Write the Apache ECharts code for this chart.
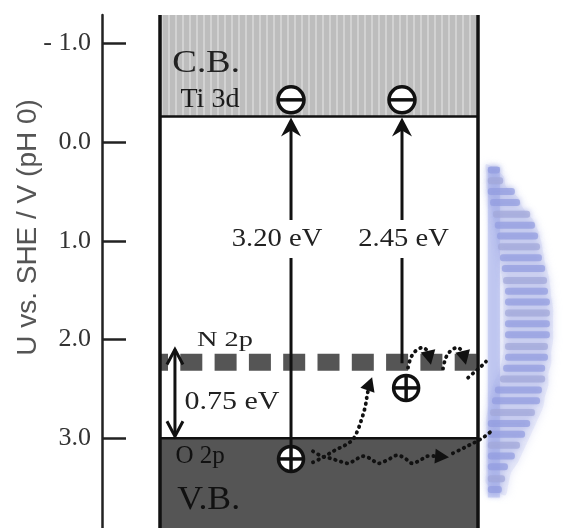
<!DOCTYPE html>
<html><head><meta charset="utf-8">
<script src="https://cdn.jsdelivr.net/npm/echarts@6/dist/echarts.min.js"></script>
<style>html,body{margin:0;padding:0;background:#fff}#c{width:563px;height:528px}</style>
</head><body><div id="c"></div>
<script>
// ---------- data ----------
const tickValues = [-1, 0, 1, 2, 3];
const tickLabels = ['- 1.0', '0.0', '1.0', '2.0', '3.0'];
const yRange = [-1.29, 3.91];          // potential, V vs SHE (axis inverted)
const xRange = [-1.824, 10];           // arbitrary horizontal units; crystal spans 0..10
const boxX = [0, 10];
const cbEdge = -0.26;                  // conduction band (Ti 3d)
const vbEdge = 3.0;                    // valence band (O 2p)
const n2pLevel = 2.23;                 // N 2p localized level
const transX = [4.12, 7.61];
const transFrom = [3.07, 2.24];
const transTo = [cbEdge, cbEdge];
const transLabels = ['3.20 eV', '2.45 eV'];
const transLabelX = [3.68, 7.66];
const transLabelY = [0.98, 0.98];
const chargeX = [4.12, 7.61, 4.12, 7.74];
const chargeY = [-0.43, -0.43, 3.21, 2.49];
const chargeSign = ['-', '-', '+', '+'];
const gapArrowX = 0.47;
const gapArrowTop = 2.09;
const gapArrowBottom = 2.99;
const labelText = ['C.B.', 'Ti 3d', 'N 2p', '0.75 eV', 'O 2p', 'V.B.'];
const labelX = [1.45, 1.57, 2.04, 2.26, 1.26, 1.53];
const labelY = [-0.80, -0.43, 2.005, 2.635, 3.183, 3.63];
const labelSize = [32, 27, 21, 25, 25, 34];
const labelStretch = [1.15, 1.04, 1.35, 1.2, 1.0, 1.05];
const labelColor = ['#222', '#1a1a1a', '#222', '#222', '#111', '#111'];
// dotted hole-migration paths
const pathAx = [4.81, 5.13, 5.50, 5.82, 6.07, 6.23, 6.35, 6.45, 6.51, 6.57, 6.67];
const pathAy = [3.244, 3.193, 3.122, 3.071, 3.010, 2.909, 2.797, 2.685, 2.574, 2.472, 2.381];
const pathBx = [4.81, 5.09, 5.35, 5.66, 5.91, 6.13, 6.35, 6.60, 6.86, 7.14, 7.45, 7.70, 7.92, 8.18, 8.40, 8.71, 9.09];
const pathBy = [3.132, 3.183, 3.203, 3.234, 3.254, 3.223, 3.183, 3.203, 3.254, 3.223, 3.173, 3.203, 3.254, 3.223, 3.183, 3.183, 3.193];
const pathB2x = [9.21, 9.47, 9.72, 9.97, 10.22, 10.38];
const pathB2y = [3.152, 3.112, 3.071, 3.030, 2.980, 2.939];
const pathC1x = [7.80, 7.89, 8.05, 8.27, 8.43, 8.52];
const pathC1y = [2.284, 2.183, 2.112, 2.081, 2.122, 2.254];
const pathC2x = [8.90, 8.99, 9.15, 9.37, 9.53, 9.62];
const pathC2y = [2.294, 2.183, 2.112, 2.081, 2.132, 2.254];
const pathC3x = [9.69, 9.87, 10.06, 10.25];
const pathC3y = [2.386, 2.335, 2.284, 2.223];
// blurred blue striped decoration at right
const decoY = [0.28,0.39,0.50,0.61,0.73,0.84,0.95,1.06,1.17,1.28,1.40,1.51,1.62,1.73,1.84,1.95,2.07,2.18,2.29,2.40,2.51,2.62,2.74,2.85,2.96,3.07,3.18,3.29,3.41,3.52];
const decoLeft = [10.31,10.31,10.31,10.38,10.47,10.53,10.60,10.63,10.69,10.75,10.79,10.85,10.85,10.85,10.85,10.85,10.85,10.85,10.79,10.69,10.53,10.44,10.38,10.31,10.31,10.31,10.31,10.31,10.31,10.31];
const decoRight = [10.69,10.79,11.16,11.32,11.64,11.79,11.89,11.95,12.01,12.11,12.17,12.20,12.26,12.26,12.26,12.26,12.20,12.20,12.11,12.11,12.01,11.95,11.79,11.64,11.48,11.32,11.16,10.94,10.85,10.75];

// ---------- styles ----------
const SERIF = '"Liberation Serif","Times New Roman",serif';
const pc = document.createElement('canvas');
pc.width = 7; pc.height = 4;
const pctx = pc.getContext('2d');
pctx.fillStyle = '#bdbdbd'; pctx.fillRect(0, 0, 7, 4);
pctx.fillStyle = '#d2d2d2'; pctx.fillRect(0, 0, 2, 4);
const cbFill = { image: pc, repeat: 'repeat' };

function headPoly(tip, from, len, half) {
  const dx = tip[0] - from[0], dy = tip[1] - from[1];
  const L = Math.hypot(dx, dy) || 1;
  const ux = dx / L, uy = dy / L, px = -uy, py = ux;
  const bx = tip[0] - ux * len, by = tip[1] - uy * len;
  return [[tip[0], tip[1]], [bx + px * half, by + py * half], [bx - px * half, by - py * half]];
}
function dotted(api, xs, ys, head) {
  const pts = xs.map((x, i) => api.coord([x, ys[i]]));
  const children = [];
  const linePts = head ? pts.slice(0, -1) : pts;
  children.push({ type: 'polyline', shape: { points: linePts, smooth: 0.35 },
    style: { stroke: '#111', lineWidth: 3.8, lineDash: [0.5, 5.5], lineCap: 'round', fill: null } });
  if (head) {
    const tip = pts[pts.length - 1], prev = pts[pts.length - 2];
    children.push({ type: 'polygon', shape: { points: headPoly(tip, prev, 14, 7.5) }, style: { fill: '#111' } });
  }
  return children;
}

const chart = echarts.init(document.getElementById('c'), null, { renderer: 'canvas' });
const option = {
  animation: false,
  backgroundColor: '#fff',
  grid: { left: 102, right: 85, top: 15, bottom: 0, outerBoundsMode: 'none' },
  xAxis: { type: 'value', min: xRange[0], max: xRange[1], show: false },
  yAxis: {
    type: 'value', inverse: true, min: yRange[0], max: yRange[1], position: 'left',
    name: 'U vs. SHE / V (pH 0)', nameLocation: 'middle', nameGap: 60, nameRotate: 90, nameMoveOverlap: false,
    nameTextStyle: { fontFamily: '"Liberation Sans",Arial,sans-serif', fontSize: 28, color: '#555', padding: [0, 0, 0, 88] },
    axisLine: { show: true, onZero: false, lineStyle: { color: '#222', width: 2.5 } },
    axisTick: { show: true, inside: true, length: 24, lineStyle: { color: '#222', width: 2.5 }, customValues: tickValues },
    axisLabel: { customValues: tickValues, margin: 11, fontFamily: SERIF, fontSize: 26, color: '#333',
      formatter: v => tickLabels[tickValues.indexOf(Math.round(v))] },
    splitLine: { show: false }
  },
  series: [
    { // blue decoration
      type: 'custom', z: 1, silent: true,
      data: decoY.map((y, i) => [decoLeft[i], y]),
      renderItem: (params, api) => {
        const i = params.dataIndex;
        const a = api.coord([decoLeft[i], decoY[i]]);
        const b = api.coord([decoRight[i], decoY[i]]);
        const children = [];
        if (i === 0) {
          const poly = decoY.map((y, k) => api.coord([decoLeft[k] - 0.05, y - 0.06]))
            .concat(decoY.slice().reverse().map((y, k) => api.coord([decoRight[decoY.length - 1 - k] + 0.1, y + 0.06])));
          children.push({ type: 'polygon', shape: { points: poly, smooth: 0.3 }, style: { fill: '#e2e5f8', opacity: 0.8, shadowBlur: 10, shadowColor: '#e2e5f8' } });
          const t = api.coord([10.31, 0.25]), u = api.coord([10.69, 3.6]);
          children.push({ type: 'rect', shape: { x: t[0], y: t[1], width: u[0] - t[0], height: u[1] - t[1] }, style: { fill: '#aab3ec', opacity: 0.5, shadowBlur: 4, shadowColor: '#aab3ec' } });
        }
        children.push({ type: 'rect', shape: { x: a[0], y: a[1] - 3.5, width: b[0] - a[0], height: 7, r: 3 },
          style: { fill: i % 3 === 1 ? '#a2a8d8' : '#939de0', opacity: 0.7, shadowBlur: 6, shadowColor: '#939de0' } });
        return { type: 'group', children };
      }
    },
    { // bands
      type: 'custom', z: 2, silent: true,
      data: [[boxX[0], yRange[0]], [boxX[0], vbEdge]],
      renderItem: (params, api) => {
        const i = params.dataIndex;
        const y0 = i === 0 ? yRange[0] : vbEdge;
        const y1 = i === 0 ? cbEdge : yRange[1];
        const p0 = api.coord([boxX[0], y0]);
        const p1 = api.coord([boxX[1], y1]);
        return { type: 'rect', shape: { x: p0[0], y: Math.min(p0[1], p1[1]), width: p1[0] - p0[0], height: Math.abs(p1[1] - p0[1]) },
          style: { fill: i === 0 ? cbFill : '#555' } };
      }
    },
    { // N 2p dashed level
      type: 'custom', z: 3, silent: true,
      data: [[boxX[0], n2pLevel]],
      renderItem: (params, api) => {
        const a = api.coord([boxX[0], n2pLevel]), b = api.coord([boxX[1], n2pLevel]);
        return { type: 'line', shape: { x1: a[0], y1: a[1], x2: b[0], y2: b[1] },
          style: { stroke: '#555', lineWidth: 17, lineDash: [22, 12.3], lineDashOffset: 14 } };
      }
    },
    { // band edges and crystal borders
      type: 'custom', z: 4, silent: true,
      data: [[boxX[0], cbEdge], [boxX[0], vbEdge], [boxX[0], yRange[0]], [boxX[1], yRange[0]]],
      renderItem: (params, api) => {
        const i = params.dataIndex;
        let a, b, w;
        if (i < 2) { const y = i === 0 ? cbEdge : vbEdge; a = api.coord([boxX[0], y]); b = api.coord([boxX[1], y]); w = 2.5; }
        else { const x = i === 2 ? boxX[0] : boxX[1]; a = api.coord([x, yRange[0]]); b = api.coord([x, yRange[1]]); w = 3.5; }
        return { type: 'line', shape: { x1: a[0], y1: a[1], x2: b[0], y2: b[1] }, style: { stroke: '#111', lineWidth: w } };
      }
    },
    { // excitation arrows
      type: 'custom', z: 5, silent: true,
      data: transX.map((x, i) => [x, transTo[i]]),
      renderItem: (params, api) => {
        const i = params.dataIndex;
        const a = api.coord([transX[i], transFrom[i]]), t = api.coord([transX[i], transTo[i]]);
        const tipY = t[1] + 1;
        return { type: 'group', children: [
          { type: 'line', shape: { x1: a[0], y1: a[1], x2: t[0], y2: tipY + 12 }, style: { stroke: '#111', lineWidth: 3 } },
          { type: 'polygon', shape: { points: [[t[0], tipY], [t[0] - 10, tipY + 19], [t[0], tipY + 13], [t[0] + 10, tipY + 19]] }, style: { fill: '#111' } }
        ] };
      }
    },
    { // band gap double arrow (0.75 eV)
      type: 'custom', z: 5, silent: true,
      data: [[gapArrowX, gapArrowTop]],
      renderItem: (params, api) => {
        const a = api.coord([gapArrowX, gapArrowTop]), b = api.coord([gapArrowX, gapArrowBottom]);
        const st = { stroke: '#111', lineWidth: 3, fill: null, lineJoin: 'miter' };
        return { type: 'group', children: [
          { type: 'line', shape: { x1: a[0], y1: a[1] + 1, x2: b[0], y2: b[1] - 1 }, style: st },
          { type: 'polyline', shape: { points: [[a[0] - 8, a[1] + 16], [a[0], a[1] + 1], [a[0] + 8, a[1] + 16]] }, style: st },
          { type: 'polyline', shape: { points: [[b[0] - 8, b[1] - 16], [b[0], b[1] - 1], [b[0] + 8, b[1] - 16]] }, style: st }
        ] };
      }
    },
    { // dotted migration paths
      type: 'custom', z: 5, silent: true,
      data: [[pathAx[0], pathAy[0]]],
      renderItem: (params, api) => ({ type: 'group', children: [].concat(
        dotted(api, pathAx, pathAy, true),
        dotted(api, pathBx, pathBy, true),
        dotted(api, pathB2x, pathB2y, false),
        dotted(api, pathC1x, pathC1y, true),
        dotted(api, pathC2x, pathC2y, true),
        dotted(api, pathC3x, pathC3y, false)) })
    },
    { // electrons and holes
      type: 'custom', z: 6, silent: true,
      data: chargeX.map((x, i) => [x, chargeY[i]]),
      renderItem: (params, api) => {
        const i = params.dataIndex;
        const p = api.coord([chargeX[i], chargeY[i]]);
        const r = chargeSign[i] === '-' ? 13 : 12.5;
        const children = [
          { type: 'circle', shape: { cx: p[0], cy: p[1], r }, style: { fill: '#fff', stroke: '#111', lineWidth: 3.5 } },
          { type: 'line', shape: { x1: p[0] - r, y1: p[1], x2: p[0] + r, y2: p[1] }, style: { stroke: '#111', lineWidth: 3.5 } }
        ];
        if (chargeSign[i] === '+') children.push({ type: 'line', shape: { x1: p[0], y1: p[1] - r, x2: p[0], y2: p[1] + r }, style: { stroke: '#111', lineWidth: 3.5 } });
        return { type: 'group', children };
      }
    },
    { // transition energy labels
      type: 'custom', z: 7, silent: true,
      data: transLabelX.map((x, i) => [x, transLabelY[i]]),
      renderItem: (params, api) => {
        const i = params.dataIndex;
        const p = api.coord([transLabelX[i], transLabelY[i]]);
        return { type: 'text', x: p[0], y: p[1], scaleX: 1.1,
          style: { text: transLabels[i], x: 0, y: 0, align: 'center', verticalAlign: 'middle', fill: '#222',
            font: '26px ' + SERIF, backgroundColor: '#fff', padding: [6, 3] } };
      }
    },
    { // region labels
      type: 'custom', z: 7, silent: true,
      data: labelX.map((x, i) => [x, labelY[i]]),
      renderItem: (params, api) => {
        const i = params.dataIndex;
        const p = api.coord([labelX[i], labelY[i]]);
        return { type: 'text', x: p[0], y: p[1], scaleX: labelStretch[i],
          style: { text: labelText[i], x: 0, y: 0, align: 'center', verticalAlign: 'middle', fill: labelColor[i],
            font: labelSize[i] + 'px ' + SERIF } };
      }
    }
  ]
};
chart.setOption(option);
</script>
</body></html>
